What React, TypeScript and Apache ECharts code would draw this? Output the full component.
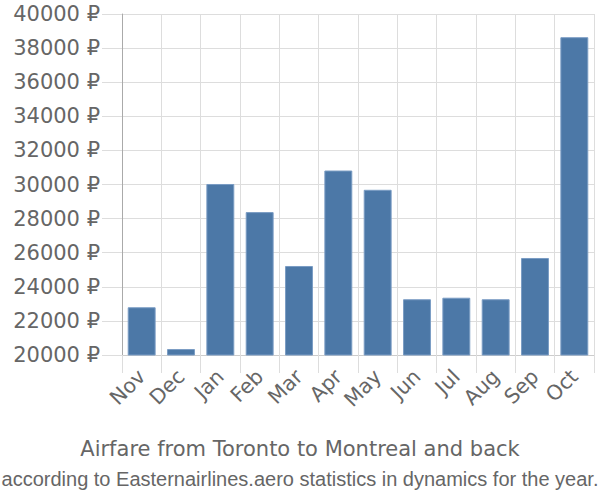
import React, { useEffect, useRef } from "react";
import * as echarts from "echarts";

const months = ["Nov", "Dec", "Jan", "Feb", "Mar", "Apr", "May", "Jun", "Jul", "Aug", "Sep", "Oct"];
const prices = [22800, 20350, 30030, 28380, 25220, 30820, 29690, 23270, 23360, 23270, 25690, 38640];
const titleText = "Airfare from Toronto to Montreal and back";
const subtitleText = "according to Easternairlines.aero statistics in dynamics for the year.";

const FONT = "DejaVu Sans, Liberation Sans, sans-serif";
const SUBFONT = "Liberation Sans, Arial, sans-serif";

export default function App() {
  const ref = useRef<HTMLDivElement>(null);
  useEffect(() => {
    if (!ref.current) return;
    const chart = echarts.init(ref.current, undefined, { renderer: "svg" });
    chart.setOption({
      animation: false,
      textStyle: { fontFamily: FONT },
      grid: { left: 122, right: 6, top: 14, bottom: 145, containLabel: false },
      title: [
        {
          text: titleText,
          left: "center",
          top: 433,
          textStyle: { fontSize: 21, fontWeight: "normal", color: "#666", fontFamily: FONT },
        },
        {
          text: subtitleText,
          left: "center",
          top: 464,
          textStyle: { fontSize: 20, fontWeight: "normal", color: "#666", fontFamily: SUBFONT },
        },
      ],
      xAxis: {
        type: "category",
        data: months,
        axisLine: { show: true, lineStyle: { color: "#ccc", width: 1 } },
        axisTick: { show: true, length: 18, lineStyle: { color: "#ddd" } },
        splitLine: { show: true, lineStyle: { color: "#ddd" } },
        axisLabel: { rotate: 45, fontSize: 20.5, color: "#666", margin: 18, interval: 0, fontFamily: FONT },
      },
      yAxis: {
        type: "value",
        min: 20000,
        max: 40000,
        interval: 2000,
        axisLine: { show: true, lineStyle: { color: "#aaa", width: 1 } },
        axisTick: { show: true, length: 20, lineStyle: { color: "#ddd" } },
        splitLine: { show: true, lineStyle: { color: "#ddd" } },
        axisLabel: { fontSize: 21, color: "#666", margin: 22, fontFamily: FONT, formatter: (v: number) => `${v} ₽` },
      },
      series: [
        {
          type: "bar",
          data: prices,
          barCategoryGap: "29%",
          itemStyle: { color: "#4C78A7", borderColor: "#7a9cc4", borderWidth: 1 },
        },
      ],
    });
    return () => chart.dispose();
  }, []);
  return <div ref={ref} style={{ position: "absolute", left: 0, top: 0, width: 600, height: 500 }} />;
}
